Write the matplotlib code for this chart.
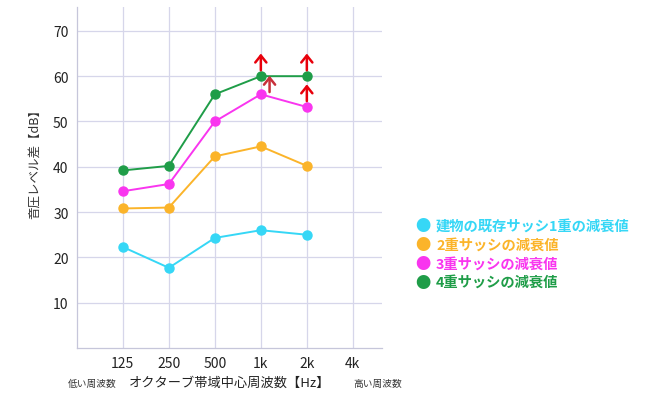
import matplotlib

matplotlib.use("Agg")

import matplotlib.pyplot as plt
import numpy as np

plt.rcParams["font.family"] = ["Noto Sans CJK JP", "DejaVu Sans"]

freqs = ["125", "250", "500", "1k", "2k", "4k"]

series_names = [
    "建物の既存サッシ1重の減衰値",
    "2重サッシの減衰値",
    "3重サッシの減衰値",
    "4重サッシの減衰値",
]
sash_1 = [22.3, 17.7, 24.3, 26.0, 25.0]
sash_2 = [30.8, 31.0, 42.3, 44.5, 40.2]
sash_3 = [34.6, 36.2, 50.0, 56.0, 53.2]
sash_4 = [39.2, 40.2, 56.0, 60.0, 60.0]
colors = ["#36d7f6", "#fbb42a", "#f935ef", "#1f9d48"]

# 「それ以上」を示す矢印 (周波数, 値)
arrow_marks = [("1k", 60.0), ("2k", 60.0), ("2k", 53.2)]
arrow_dark = ("1k", 56.0)

fig = plt.figure(figsize=(6.46, 4.14), dpi=100)
ax = fig.add_axes([0.119, 0.157, 0.472, 0.824])

x = np.arange(1, len(freqs) + 1)
for vals, c in zip([sash_1, sash_2, sash_3, sash_4], colors):
    ax.plot(x[: len(vals)], vals, color=c, lw=1.4, marker="o", ms=6.5, zorder=3)

pos = dict(zip(freqs, x))
arrow_style = "->,head_width=0.4,head_length=0.5"
for f, v in arrow_marks:
    ax.annotate(
        "", xy=(pos[f], v + 5.0), xytext=(pos[f], v + 1.3),
        arrowprops=dict(arrowstyle=arrow_style, color="#e8000b", lw=1.8,
                        shrinkA=0, shrinkB=0),
        zorder=4,
    )
f, v = arrow_dark
ax.annotate(
    "", xy=(pos[f] + 0.19, v + 4.1), xytext=(pos[f] + 0.19, v + 0.5),
    arrowprops=dict(arrowstyle=arrow_style, color="#c8303a", lw=1.8,
                    shrinkA=0, shrinkB=0),
    zorder=4,
)

ax.set_xlim(0, 6.63)
ax.set_ylim(0, 75.3)
ax.set_xticks(x)
ax.set_xticklabels(freqs, fontsize=10, color="#222222")
ax.set_yticks([10, 20, 30, 40, 50, 60, 70])
ax.tick_params(axis="y", labelsize=10, colors="#222222", length=0, pad=6)
ax.tick_params(axis="x", length=0, pad=6)
ax.grid(True, color="#d6d6ea", lw=0.9)
ax.set_axisbelow(True)
for s in ["top", "right"]:
    ax.spines[s].set_visible(False)
for s in ["left", "bottom"]:
    ax.spines[s].set_color("#c6c6da")
    ax.spines[s].set_linewidth(0.9)

fig.text(0.054, 0.61, "音圧レベル差【dB】", rotation=90, fontsize=9,
         color="#333333", ha="center", va="center")
fig.text(0.356, 0.075, "オクターブ帯域中心周波数【Hz】", fontsize=9.5,
         color="#222222", ha="center", va="center")
fig.text(0.143, 0.072, "低い周波数", fontsize=7, color="#333333",
         ha="center", va="center")
fig.text(0.585, 0.072, "高い周波数", fontsize=7, color="#333333",
         ha="center", va="center")

for i, (name, c) in enumerate(zip(series_names, colors)):
    yy = 1 - (227 + i * 18.7) / 414
    fig.text(0.655, yy, "●", fontsize=11, color=c, ha="center", va="center")
    fig.text(0.675, yy, name, fontsize=10.3, color=c, ha="left", va="center",
             fontweight="bold")

fig.savefig("out.png", dpi=100)
